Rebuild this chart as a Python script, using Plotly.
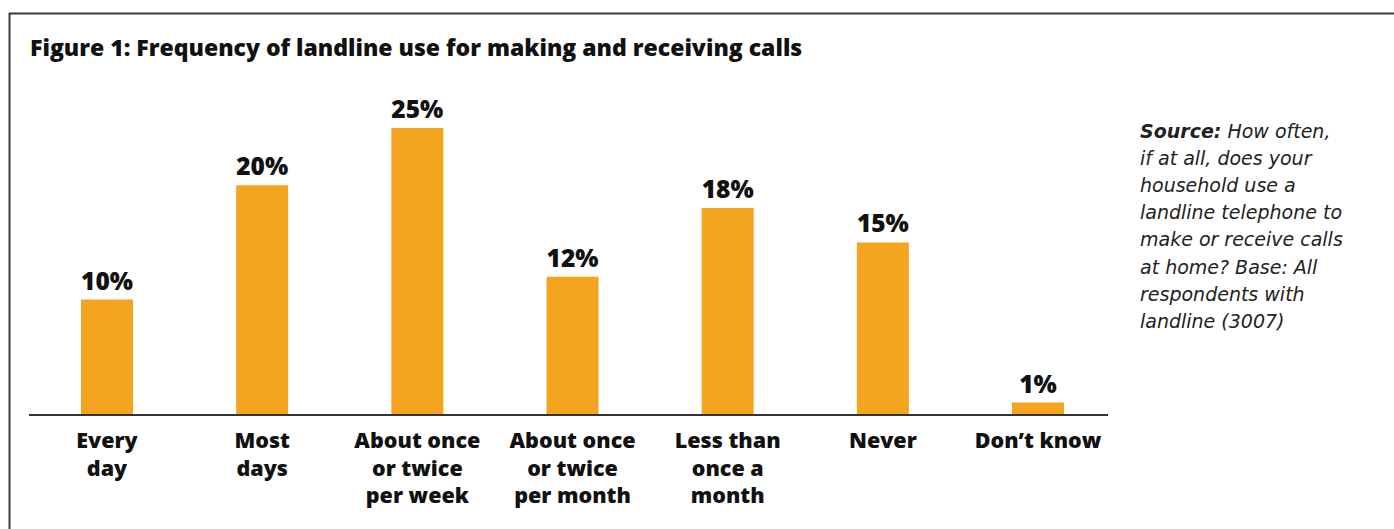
import plotly.graph_objects as go

# Survey responses: how often the household landline is used
categories = ["Every<br>day", "Most<br>days", "About once<br>or twice<br>per week",
              "About once<br>or twice<br>per month", "Less than<br>once a<br>month",
              "Never", "Don’t know"]
shares = [10, 20, 25, 12, 18, 15, 1]

title_text = "Figure 1: Frequency of landline use for making and receiving calls"
source_lines = ["<b>Source:</b> How often,", "if at all, does your", "household use a",
                "landline telephone to", "make or receive calls", "at home? Base: All",
                "respondents with", "landline (3007)"]

BAR_COLOR = "#F4A41F"
W, H = 1394, 529
L, R, T, B = 29, 1108, 100, 414  # plot area in pixels
STEP = 155.17                     # pixels between category centres
FIRST = 107                       # pixel centre of first category


def px_x(px):
    return (px - L) / (R - L)


def px_y(py):
    return (B - py) / (B - T)


x0 = -(FIRST - L) / STEP
x1 = x0 + (R - L) / STEP

fig = go.Figure(go.Bar(
    x=list(range(len(categories))),
    y=shares,
    marker=dict(color=BAR_COLOR, line=dict(width=0)),
    text=[f"{v}%" for v in shares],
    textposition="outside",
    textfont=dict(family="Open Sans", size=24.5, color="#111111", weight=800),
    cliponaxis=False,
    width=52 / STEP,
))

fig.update_layout(
    width=W, height=H,
    margin=dict(l=L, r=W - R, t=T, b=H - B, pad=0),
    paper_bgcolor="white", plot_bgcolor="white",
    showlegend=False,
    xaxis=dict(
        range=[x0, x1],
        tickmode="array", tickvals=list(range(len(categories))), ticktext=categories,
        tickfont=dict(family="Open Sans", size=21.5, color="#111111", weight=800),
        ticklabelstandoff=6,
        showline=True, linecolor="#333333", linewidth=1.5,
        showgrid=False, zeroline=False, ticks="", fixedrange=True,
    ),
    yaxis=dict(range=[0, (B - T) / 11.44], visible=False, fixedrange=True),
)

fig.add_annotation(
    text=title_text, xref="paper", yref="paper",
    x=px_x(28), y=px_y(47), xanchor="left", yanchor="middle", showarrow=False,
    font=dict(family="Open Sans", size=23, color="#111111", weight=800),
)

for i, line in enumerate(source_lines):
    fig.add_annotation(
        text=f"<i>{line}</i>", xref="paper", yref="paper",
        x=px_x(1138), y=px_y(131 + i * 27.1), xanchor="left", yanchor="middle",
        showarrow=False, font=dict(family="DejaVu Sans", size=19, color="#222222"),
    )

# Frame: top and left edges
fig.add_shape(type="line", xref="paper", yref="paper",
              x0=px_x(9), x1=px_x(1394), y0=px_y(13.5), y1=px_y(13.5),
              line=dict(color="#3a3a3a", width=2))
fig.add_shape(type="line", xref="paper", yref="paper",
              x0=px_x(9.5), x1=px_x(9.5), y0=px_y(13), y1=px_y(529),
              line=dict(color="#3a3a3a", width=2))

fig.write_html("out.html")
